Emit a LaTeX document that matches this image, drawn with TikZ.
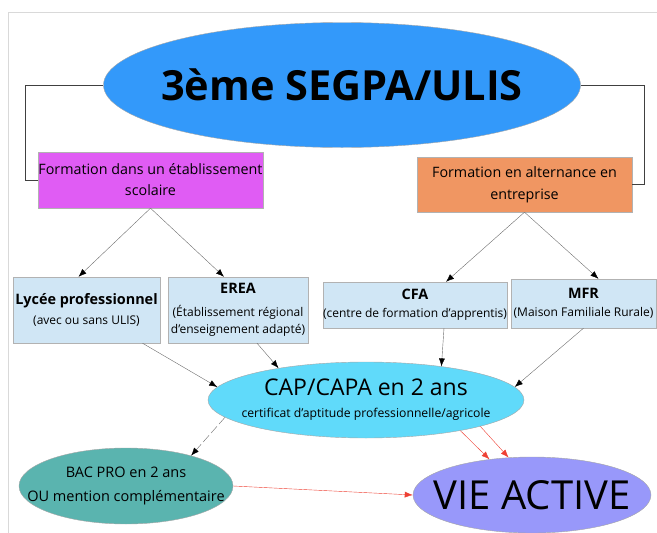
\documentclass[tikz,border=0pt]{standalone}
\usepackage{fontspec}
\setmainfont{Open Sans}
\usetikzlibrary{shapes.geometric,arrows.meta,positioning,calc}
\definecolor{segpablue}{RGB}{51,153,250}
\definecolor{scolmagenta}{RGB}{224,92,244}
\definecolor{altorange}{RGB}{240,150,98}
\definecolor{etabblue}{RGB}{208,230,245}
\definecolor{capcyan}{RGB}{96,218,250}
\definecolor{bacteal}{RGB}{90,180,175}
\definecolor{vieviolet}{RGB}{152,152,250}
\definecolor{flecherouge}{RGB}{238,64,52}

\begin{document}
\begin{tikzpicture}[x=1pt,y=-1pt,
    bulle/.style={ellipse,draw=gray!70,inner sep=0pt},
    boite/.style={rectangle,draw=gray!60,inner sep=0pt,align=center},
    fleche/.style={draw=gray!85!black,line width=0.4pt,-{Latex[length=8pt,width=6pt,color=black]}},
    rouge/.style={draw=flecherouge,line width=0.4pt,-{Latex[length=8pt,width=6pt]}}]
    \useasboundingbox (0,0) rectangle (657,533);
    % cadre de la page
    \draw[gray!30] (8,533) -- (8,12) -- (657,12);

    % titre
    \node[bulle,fill=segpablue,minimum width=477pt,minimum height=125pt,
        label={[font=\fontsize{41.5}{48}\selectfont\bfseries]center:3ème SEGPA/ULIS}] (segpa) at (342,85) {};

    % deux voies
    \node[boite,fill=scolmagenta,minimum width=225pt,minimum height=56pt,
        font=\fontsize{14.3}{21}\selectfont] (scol) at (150.5,180)
        {Formation dans un établissement\\scolaire};
    \node[boite,fill=altorange,minimum width=215pt,minimum height=55pt,
        font=\fontsize{14.3}{22}\selectfont] (alt) at (524.5,184.5)
        {Formation en alternance en\\entreprise};
    \coordinate (coing) at (25,85);
    \coordinate (coind) at (644,85);
    \draw[gray!50!black] (segpa.west) -- (coing) |- (scol.west);
    \draw[gray!50!black] (segpa.east) -- (coind) |- (alt.east);

    % établissements
    \node[boite,fill=etabblue,minimum width=147pt,minimum height=66pt,
        font=\fontsize{12}{20}\selectfont] (lycee) at (86.5,310)
        {\fontsize{14.4}{20}\selectfont\bfseries Lycée professionnel\\
         \fontsize{12}{20}\selectfont\mdseries (avec ou sans ULIS)};
    \node[boite,fill=etabblue,minimum width=140pt,minimum height=66pt,
        font=\fontsize{12}{17}\selectfont] (erea) at (238,310)
        {\fontsize{14.4}{20}\selectfont\bfseries EREA\\[6pt]
         \fontsize{12}{17}\selectfont\mdseries (Établissement régional\\d'enseignement adapté)};
    \node[boite,fill=etabblue,minimum width=182pt,minimum height=46pt,
        font=\fontsize{12}{18}\selectfont] (cfa) at (415,305)
        {\fontsize{14.4}{18}\selectfont\bfseries CFA\\
         \fontsize{12}{18}\selectfont\mdseries (centre de formation d'apprentis)};
    \node[boite,fill=etabblue,minimum width=145pt,minimum height=49pt,
        font=\fontsize{12}{18}\selectfont] (mfr) at (583.5,303.5)
        {\fontsize{14.4}{18}\selectfont\bfseries MFR\\
         \fontsize{12}{18}\selectfont\mdseries (Maison Familiale Rurale)};

    \draw[fleche] (scol.south) -- ([xshift=-8pt]lycee.north);
    \draw[fleche] (scol.south) -- ([xshift=-14pt]erea.north);
    \draw[fleche] (alt.south) -- ([xshift=31pt]cfa.north);
    \draw[fleche] (alt.south) -- ([xshift=15pt]mfr.north);

    % diplômes
    \node[bulle,fill=capcyan,minimum width=316pt,minimum height=76pt,
        label={[align=center,font=\fontsize{12.2}{22}\selectfont]center:\fontsize{23}{28}\selectfont CAP/CAPA en 2 ans\\
            \fontsize{12.2}{22}\selectfont certificat d'aptitude professionnelle/agricole}] (cap) at (366,400) {};
    \node[bulle,fill=bacteal,minimum width=214pt,minimum height=76pt,
        label={[align=center,font=\fontsize{14.5}{24}\selectfont]center:BAC PRO en 2 ans\\OU mention complémentaire}] (bac) at (126,486) {};
    \node[bulle,fill=vieviolet,minimum width=238pt,minimum height=76pt,
        label={[font=\fontsize{40}{44}\selectfont]center:VIE ACTIVE}] (vie) at (532,495) {};

    \draw[fleche] ([xshift=56pt]lycee.south) -- (cap.175);
    \draw[fleche] ([xshift=19pt]erea.south) -- (cap.160);
    \draw[fleche] ([xshift=29pt]cfa.south) -- (cap.24);
    \draw[fleche] (mfr.south) -- (cap.5);
    \draw[fleche,dash pattern=on 9pt off 3pt] (cap.187) -- (bac.25);

    \draw[rouge] (cap.-18) -- (vie.140);
    \draw[rouge] (cap.-13) -- (vie.122);
    \draw[rouge] (bac.east) -- (vie.west);
\end{tikzpicture}
\end{document}
